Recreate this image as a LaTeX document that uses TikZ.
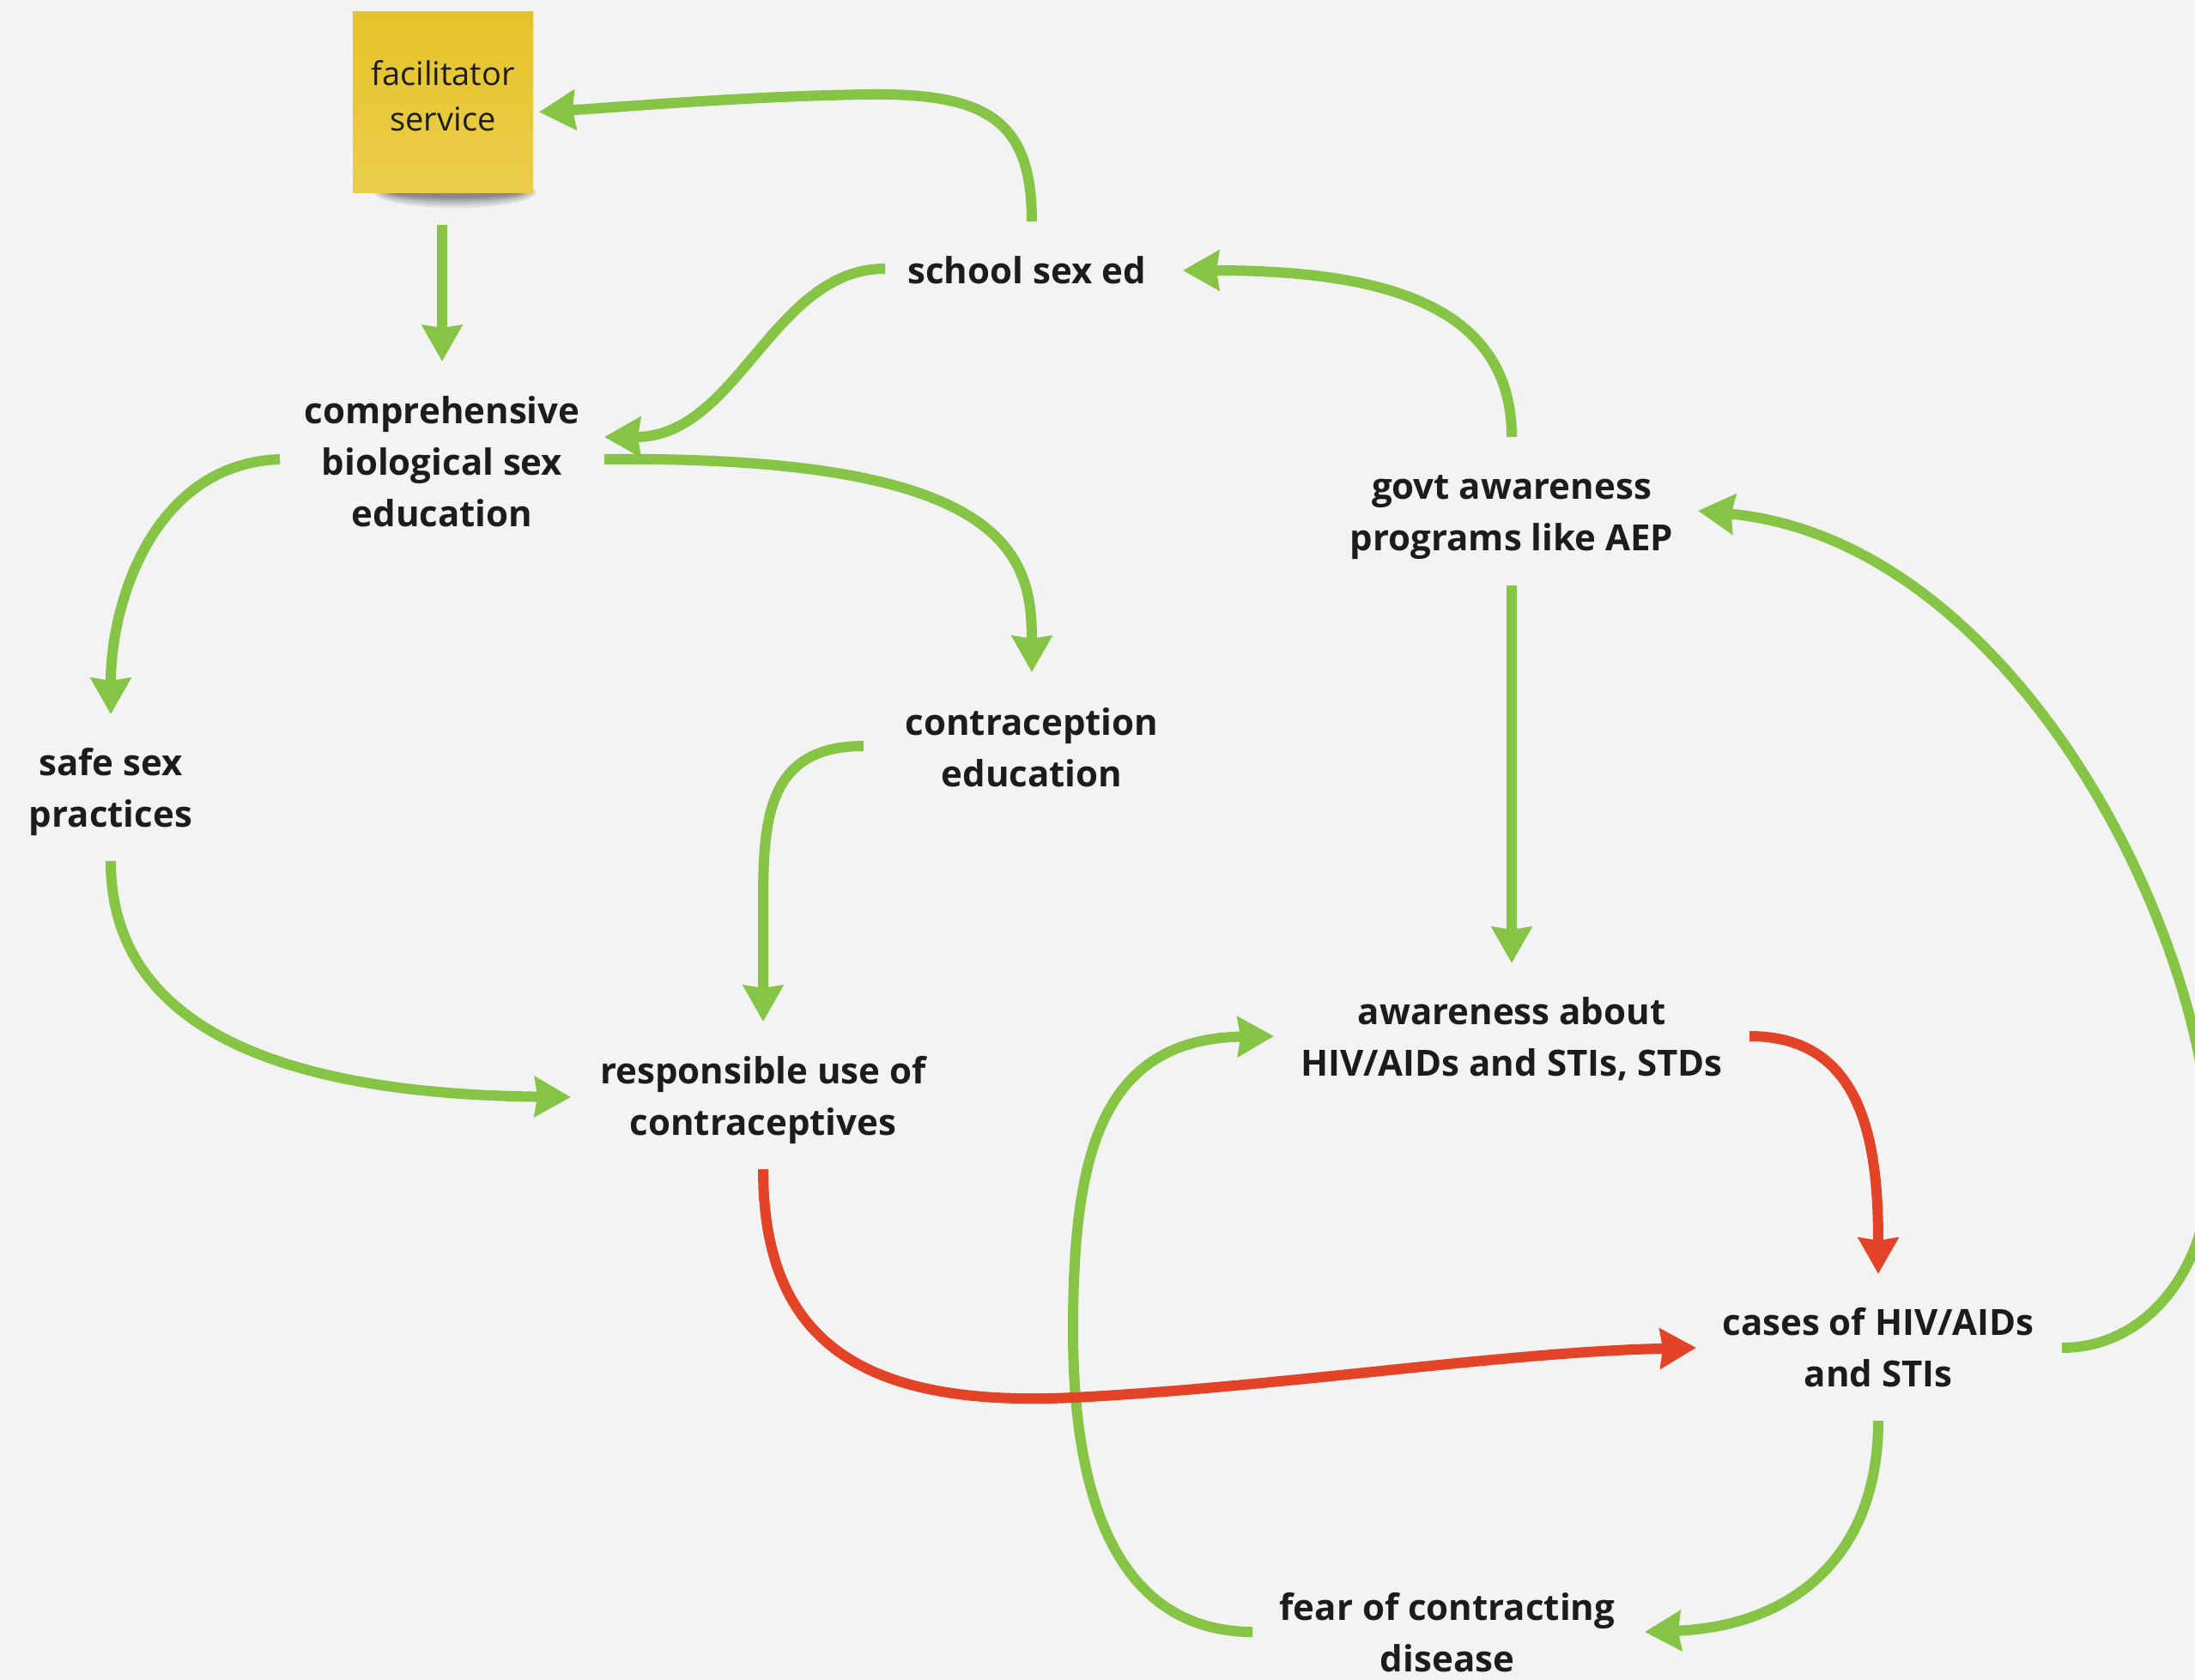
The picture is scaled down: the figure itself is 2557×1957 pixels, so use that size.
\documentclass[tikz,border=0pt]{standalone}
\usepackage{fontspec}
\setmainfont{Open Sans}
\usetikzlibrary{arrows.meta,calc}
\definecolor{bg}{HTML}{F3F3F3}
\definecolor{gr}{HTML}{86C446}
\definecolor{rd}{HTML}{E34326}
\definecolor{txt}{HTML}{1C1C1C}
\definecolor{stA}{HTML}{E5C329}
\definecolor{stB}{HTML}{ECCD4A}
\begin{document}
\begin{tikzpicture}[x=1pt,y=-1pt,
  lbl/.style={text=txt, font=\fontsize{42}{60}\selectfont\bfseries, align=center, inner sep=0pt},
  sticky/.style={minimum width=210pt, minimum height=211pt, inner sep=0pt, top color=stA, bottom color=stB, draw=none},
  stickytext/.style={text=txt, font=\fontsize{38}{53}\selectfont, align=center, inner sep=0pt},
  ga/.style={draw=gr, line width=12pt, -{Stealth[length=42pt,width=46pt,inset=3pt]}},
  ra/.style={ga, draw=rd}]
\fill[bg] (0,0) rectangle (2557,1957);
\useasboundingbox (0,0) rectangle (2557,1957);
% sticky shadow
\foreach \w/\h in {94/18,90/15,86/12,82/10,78/8,74/6}{
  \fill[black,opacity=0.09] (530,224) ellipse ({\w} and {\h});
}
\node[sticky] (fac) at (516,118.5) {};
\node[stickytext] (factxt) at (516,112) {facilitator\\service};

\node[lbl] (school) at (1196,315) {school sex ed};
\node[lbl] (comp) at (515,538) {comprehensive\\biological sex\\education};
\node[lbl] (safe) at (129,922) {safe sex\\practices};
\node[lbl] (contr) at (1202,871) {contraception\\education};
\node[lbl] (resp) at (889,1281) {responsible use of\\contraceptives};
\node[lbl] (govt) at (1761,603) {govt awareness\\programs like AEP};
\node[lbl] (aware) at (1761,1210) {awareness about\\HIV/AIDs and STIs, STDs};
\node[lbl] (cases) at (2188,1570) {cases of HIV/AIDs\\and STIs};
\node[lbl] (fear) at (1686,1902) {fear of contracting\\disease};

% 1 school -> facilitator
\draw[ga] ([shift={(6,-57)}]school.center) .. controls (1202,140) and (1150,108) .. (1010,110)
   .. controls (870,112) and (720,125) .. ([shift={(112,12)}]fac.center);
% 2 facilitator -> comprehensive
\draw[ga] ([shift={(-1,143)}]fac.center) -- ([shift={(0,-117)}]comp.center);
% 3 school -> comprehensive
\draw[ga] ([shift={(-165,-2)}]school.center) .. controls (900,313) and (860,509) .. ([shift={(189,-29)}]comp.center);
% 4 comp -> safe
\draw[ga] ([shift={(-189,-3)}]comp.center) .. controls (180,540) and (129,700) .. ([shift={(0,-90)}]safe.center);
% 5 comp -> contraception
\draw[ga] ([shift={(189,-3)}]comp.center) .. controls (1180,530) and (1202,650) .. ([shift={(0,-88)}]contr.center);
% 6 safe -> responsible
\draw[ga] ([shift={(0,81)}]safe.center) .. controls (129,1230) and (400,1275) .. ([shift={(-224,-3)}]resp.center);
% 7 contraception -> responsible
\draw[ga] ([shift={(-196,-2)}]contr.center) .. controls (890,869) and (889,960) .. (889,1060) -- ([shift={(0,-91)}]resp.center);
% 9 govt -> school
\draw[ga] ([shift={(0,-94)}]govt.center) .. controls (1761,350) and (1600,315) .. ([shift={(182,0)}]school.center);
% 10 govt -> awareness
\draw[ga] ([shift={(0,79)}]govt.center) -- ([shift={(0,-88)}]aware.center);
% 11 cases -> govt
\draw[ga] ([shift={(214,0)}]cases.center) .. controls (2500,1570) and (2572,1480) .. (2575,1360)
   .. controls (2580,1100) and (2350,630) .. ([shift={(217,-8)}]govt.center);
% 13 cases -> fear
\draw[ga] ([shift={(0,85)}]cases.center) .. controls (2188,1820) and (2080,1895) .. ([shift={(230,-1)}]fear.center);
% 14 fear -> awareness
\draw[ga] ([shift={(-227,-1)}]fear.center) .. controls (1280,1900) and (1250,1700) .. (1250,1550)
   .. controls (1250,1350) and (1280,1210) .. ([shift={(-277,-3)}]aware.center);
% 8 responsible -> cases (red)
\draw[ra] ([shift={(0,81)}]resp.center) .. controls (889,1560) and (1000,1640) .. (1250,1628)
   .. controls (1500,1615) and (1750,1575) .. ([shift={(-212,0)}]cases.center);
% 12 awareness -> cases (red)
\draw[ra] ([shift={(277,-3)}]aware.center) .. controls (2170,1207) and (2188,1330) .. ([shift={(0,-86)}]cases.center);
\end{tikzpicture}
\end{document}
